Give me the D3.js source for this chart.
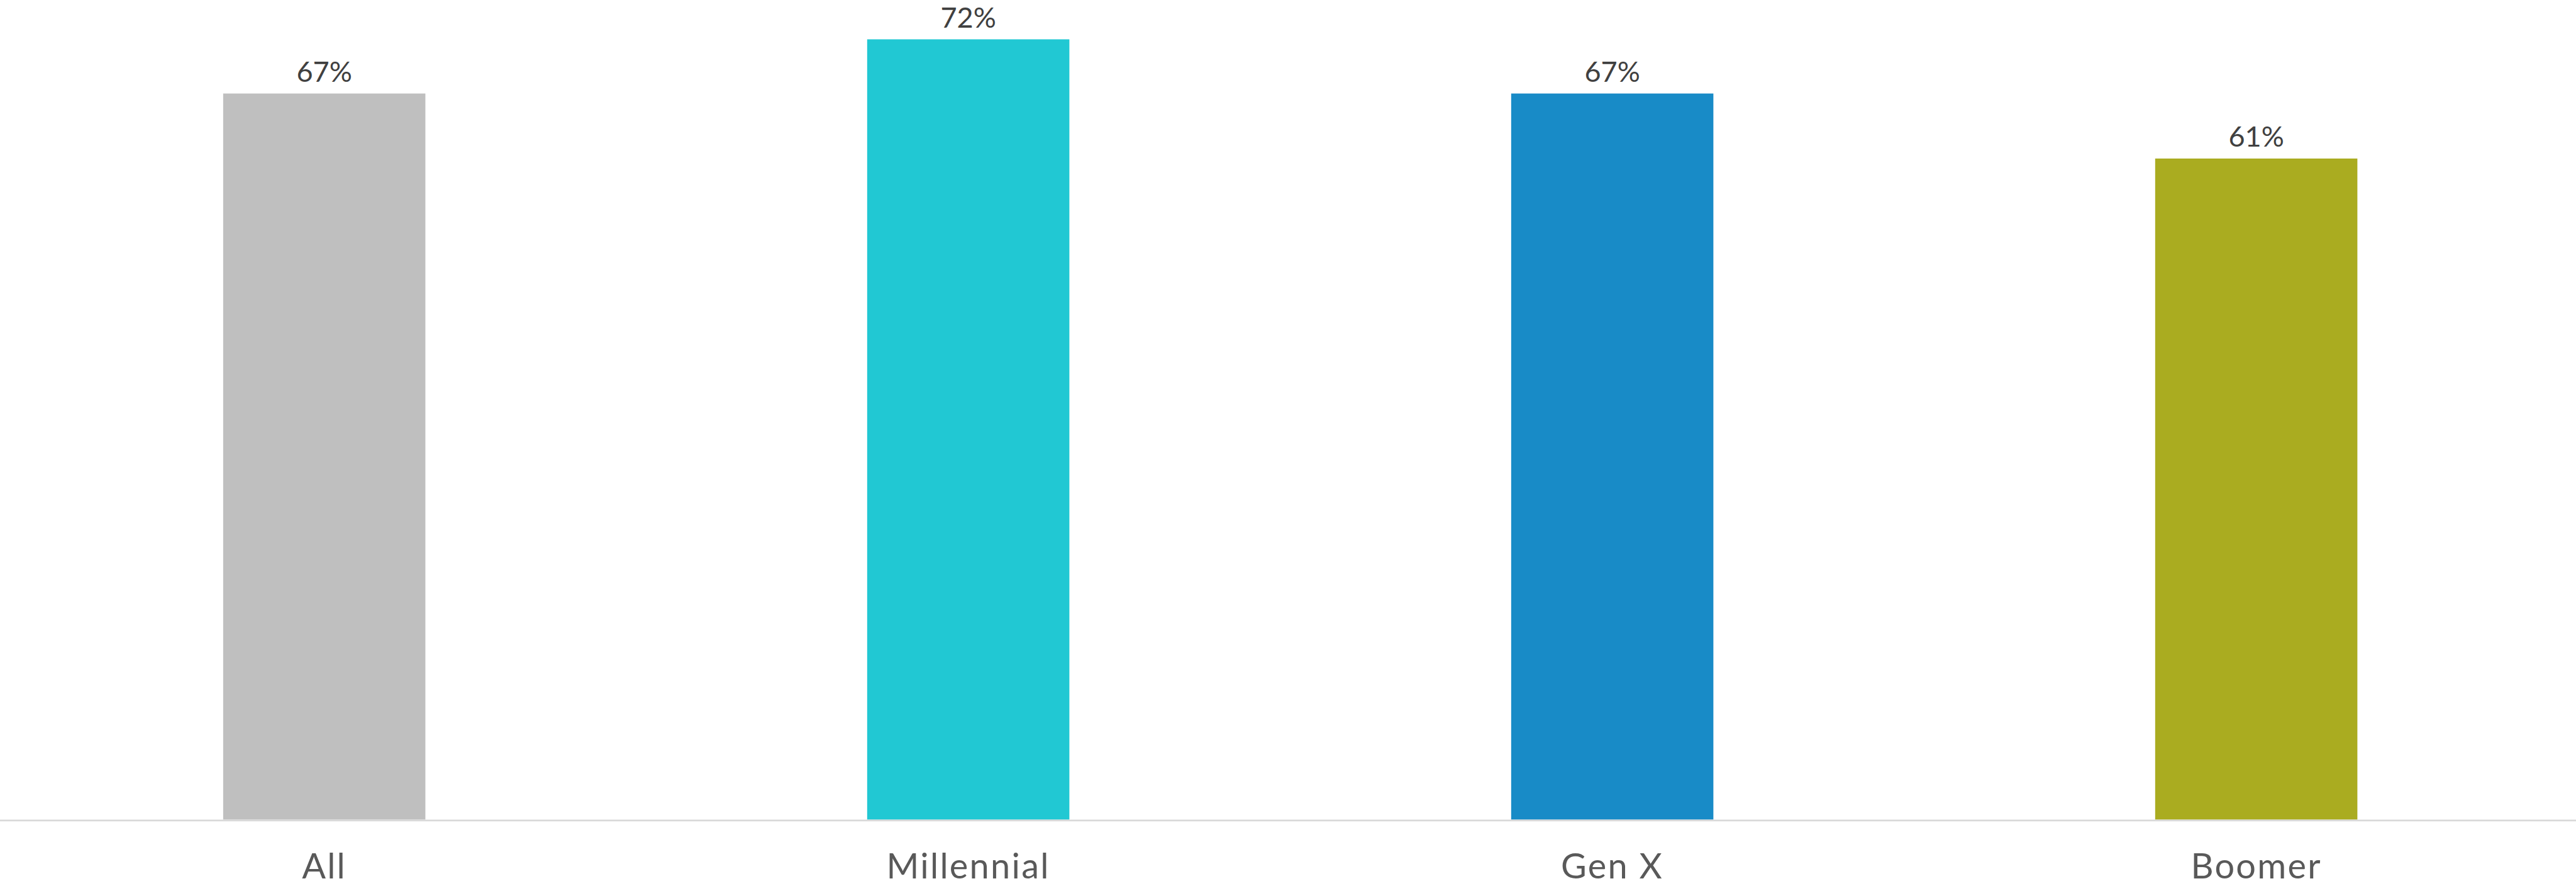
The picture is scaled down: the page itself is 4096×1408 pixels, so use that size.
<!DOCTYPE html>
<html>
<head>
<meta charset="utf-8">
<script src="https://cdn.jsdelivr.net/npm/d3@7"></script>
<style>
  html, body { margin: 0; padding: 0; background: #fff; overflow: hidden; }
  #chart { width: 4096px; height: 1408px; }
</style>
</head>
<body>
<div id="chart"></div>
<script>
// data
const categories = ["All", "Millennial", "Gen X", "Boomer"];
const values = [0.67, 0.72, 0.67, 0.61];
const colors = ["#bfbfbf", "#21c8d3", "#188bc7", "#aaac20"];

// drawn in the reference's own pixel space, then scaled down by the viewBox
const W = 4544, H = 1562;
const baseY = 1445;

const svg = d3.select("#chart")
  .append("svg")
  .attr("width", 4096)
  .attr("height", 1408)
  .attr("viewBox", `0 0 ${W} ${H}`);

const x = d3.scaleBand()
  .domain(categories)
  .range([4, W + 4])
  .paddingInner(0.686)
  .paddingOuter(0.343);

const y = d3.scaleLinear()
  .domain([0, 0.75])
  .range([baseY, 12]);

const fontFam = "Lato, 'Open Sans', sans-serif";

// bars
svg.append("g")
  .selectAll("rect")
  .data(values)
  .join("rect")
    .attr("x", (d, i) => x(categories[i]))
    .attr("y", d => y(d))
    .attr("width", x.bandwidth())
    .attr("height", d => baseY - y(d))
    .attr("fill", (d, i) => colors[i]);

// baseline
svg.append("line")
  .attr("x1", 0).attr("x2", W)
  .attr("y1", baseY + 1.5).attr("y2", baseY + 1.5)
  .attr("stroke", "#d9d9d9")
  .attr("stroke-width", 3);

// value labels
svg.append("g")
  .selectAll("text")
  .data(values)
  .join("text")
    .attr("x", (d, i) => x(categories[i]) + x.bandwidth() / 2)
    .attr("y", d => y(d) - 21)
    .attr("text-anchor", "middle")
    .style("font-family", fontFam)
    .style("font-size", "50px")
    .style("fill", "#404040")
    .text(d => Math.round(d * 100) + "%");

// category labels
const xAxis = svg.append("g")
  .attr("transform", `translate(0,${baseY})`)
  .call(d3.axisBottom(x).tickSize(0).tickPadding(0));
xAxis.select(".domain").remove();
xAxis.selectAll("text")
  .attr("dy", null)
  .attr("y", 104)
  .style("font-family", fontFam)
  .style("font-size", "62px")
  .style("letter-spacing", "2.5px")
  .style("fill", "#595959");
</script>
</body>
</html>
